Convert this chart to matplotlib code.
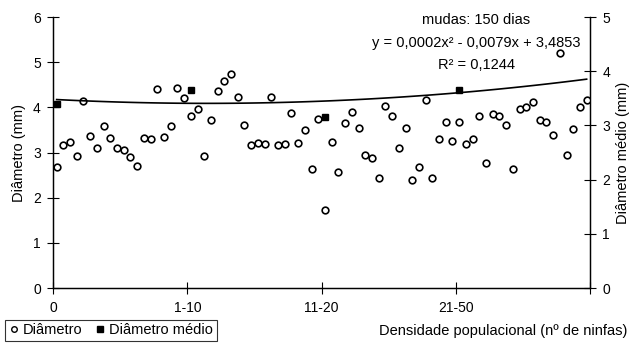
import numpy as np
import matplotlib
matplotlib.use('Agg')
import matplotlib.pyplot as plt
from matplotlib.lines import Line2D

plt.rcParams['font.family'] = ['Liberation Sans', 'DejaVu Sans']

# individual diameters (left axis), one per plant
diametro = [2.67, 3.17, 3.23, 2.92, 4.14, 3.37, 3.10, 3.58, 3.33, 3.11,
            3.06, 2.91, 2.71, 3.32, 3.29, 4.41, 3.35, 3.58, 4.43, 4.21,
            3.81, 3.96, 2.93, 3.72, 4.36, 4.58, 4.74, 4.24, 3.61, 3.16,
            3.21, 3.18, 4.22, 3.16, 3.19, 3.87, 3.22, 3.49, 2.63, 3.74,
            1.72, 3.23, 2.57, 3.65, 3.89, 3.54, 2.95, 2.87, 2.44, 4.04,
            3.81, 3.11, 3.54, 2.39, 2.69, 4.16, 2.44, 3.29, 3.67, 3.25,
            3.68, 3.19, 3.29, 3.81, 2.77, 3.86, 3.81, 3.62, 2.64, 3.97,
            4.01, 4.12, 3.71, 3.68, 3.39, 5.20, 2.94, 3.53, 4.01, 4.16]

# mean diameter per density class (right axis)
medio_pos = [0, 20, 40, 60]
diametro_medio = [3.39, 3.65, 3.16, 3.66]

tick_pos = [0, 20, 40, 60, 80]
tick_labels = ['0', '1-10', '11-20', '21-50', '']

# polynomial trendline as printed on the chart
c2, c1, c0 = 0.0002, -0.0079, 3.4853

x = np.arange(len(diametro)) + 0.5
xm = np.array(medio_pos) + 0.5

fig = plt.figure(figsize=(6.3, 3.43), dpi=100)
ax1 = fig.add_axes([0.0846, 0.1603, 0.8519, 0.790])
ax1.plot(x, diametro, 'o', ms=4.8, mfc='white', mec='black', mew=1.2, zorder=3)
ax1.set_xlim(0, 80)
ax1.set_ylim(0, 6)
ax1.set_yticks(range(0, 7))
ax1.set_xticks(tick_pos)
ax1.set_xticklabels(tick_labels)
ax1.set_ylabel('Diâmetro (mm)', fontsize=10.5, labelpad=5)
ax1.spines['top'].set_visible(False)
ax1.tick_params(axis='both', direction='inout', length=8, width=0.8, labelsize=10, pad=5)

ax2 = ax1.twinx()
u = np.linspace(1, 67, 120)
ax2.plot(0.5 + (u - 1) * 79 / 66, c2 * u**2 + c1 * u + c0, color='black', lw=1.2)
ax2.plot(xm, diametro_medio, 's', ms=4.8, color='black', zorder=4)
ax2.set_ylim(0, 5)
ax2.set_yticks(range(0, 6))
ax2.set_ylabel('Diâmetro médio (mm)', fontsize=10.5, labelpad=4)
ax2.spines['top'].set_visible(False)
ax2.tick_params(axis='y', direction='inout', length=8, width=0.8, labelsize=10, pad=5)

for s in ['left', 'bottom', 'right']:
    ax1.spines[s].set_linewidth(0.9)
    ax2.spines[s].set_linewidth(0.9)

fig.text(476 / 630, 1 - 20 / 343, 'mudas: 150 dias', ha='center', va='center', fontsize=10.5)
fig.text(476 / 630, 1 - 43 / 343, 'y = 0,0002x² - 0,0079x + 3,4853', ha='center', va='center', fontsize=10.5)
fig.text(476 / 630, 1 - 65 / 343, 'R² = 0,1244', ha='center', va='center', fontsize=10.5)

fig.text(379 / 630, 1 - 331 / 343, 'Densidade populacional (nº de ninfas)', ha='left', va='center', fontsize=10.5)

handles = [Line2D([], [], ls='none', marker='o', ms=4, mfc='white', mec='black', mew=1.0),
           Line2D([], [], ls='none', marker='s', ms=4.5, color='black')]
leg = fig.legend(handles, ['Diâmetro', 'Diâmetro médio'], ncol=2, loc='lower left',
                 bbox_to_anchor=(5 / 630, 2 / 343), fontsize=10.5, frameon=True, fancybox=False,
                 handlelength=0.7, handletextpad=0.3, columnspacing=0.8, borderpad=0.25,
                 borderaxespad=0)
leg.get_frame().set_edgecolor('black')
leg.get_frame().set_linewidth(0.8)

fig.savefig('out.png', dpi=100)
